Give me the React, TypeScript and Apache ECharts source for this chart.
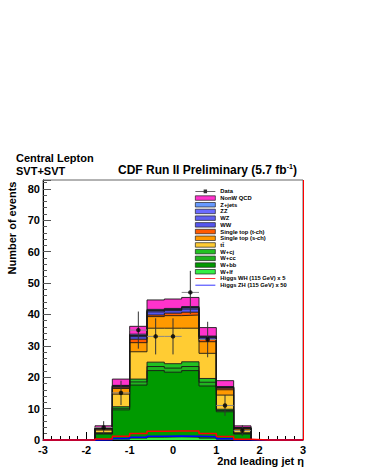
import React, { useEffect, useRef } from 'react';
import * as echarts from 'echarts';

const FONT = '"Liberation Sans", Arial, Helvetica, sans-serif';

// 15 bins of width 0.4 from -3 to 3
const binEdges = [-3, -2.6, -2.2, -1.8, -1.4, -1.0, -0.6, -0.2, 0.2, 0.6, 1.0, 1.4, 1.8, 2.2, 2.6, 3];

// background components (stacked, bottom to top)
const wlf    = [0, 0, 0, 0.05, 0.3, 0.6, 0.9, 1.0, 0.9, 0.6, 0.3, 0.05, 0, 0, 0];
const wbb    = [0, 0, 0, 1.85, 9.3, 16.9, 21.2, 20.6, 21.2, 16.6, 8.7, 1.85, 0, 0, 0];
const wcc    = [0, 0, 0, 0.2, 0.5, 1.0, 1.3, 1.3, 1.3, 1.2, 0.4, 0.2, 0, 0, 0];
const wcj    = [0, 0, 0, 0.2, 0.5, 0.9, 1.4, 1.4, 1.5, 1.2, 0.4, 0.2, 0, 0, 0];
const ttbar  = [0, 0, 0, 0.85, 4.0, 8.7, 10.8, 11.3, 10.7, 8.0, 4.5, 0.9, 0, 0, 0];
const stopS  = [0, 0, 0, 0.3, 1.8, 2.9, 3.7, 4.0, 4.2, 3.7, 1.7, 0.4, 0, 0, 0];
const stopT  = [0, 0, 0, 0.1, 0.4, 1.1, 0.5, 0.8, 0.9, 0.8, 0.5, 0.1, 0, 0, 0];
const ww     = [0, 0, 0, 0.1, 0.3, 0.8, 1.0, 0.8, 1.0, 0.5, 0.2, 0.15, 0, 0, 0];
const wz     = [0, 0, 0, 0.05, 0.1, 0.3, 0.4, 0.3, 0.4, 0.2, 0.1, 0.05, 0, 0, 0];
const zz     = [0, 0, 0, 0.02, 0.05, 0.1, 0.1, 0.1, 0.1, 0.1, 0.05, 0.02, 0, 0, 0];
const zjets  = [0, 0, 0, 0.1, 0.15, 0.4, 0.3, 0.3, 0.3, 0.2, 0.15, 0.08, 0, 0, 0];
const qcd    = [0, 0, 0, 0.7, 2.0, 2.5, 3.0, 3.0, 2.9, 2.7, 1.9, 0.5, 0, 0, 0];

// signal (scaled)
const higgsWH = [0, 0, 0, 0.3, 1.2, 2.1, 2.8, 2.9, 2.9, 2.1, 1.1, 0.2, 0, 0, 0];
const higgsZH = [0, 0, 0, 0.05, 0.5, 0.9, 1.2, 1.3, 1.2, 1.0, 0.4, 0.05, 0, 0, 0];

// data
const dataX = [-1.6, -1.2, -0.8, -0.4, 0, 0.4, 0.8, 1.2, 1.6];
const dataY = [4, 15, 35, 33, 33, 47, 32, 11, 3];

const yMax = 82.8;

const layers = [
  { name: 'W+lf', vals: wlf, color: '#33ee44' },
  { name: 'W+bb', vals: wbb, color: '#009a00' },
  { name: 'W+cc', vals: wcc, color: '#1fb41f' },
  { name: 'W+cj', vals: wcj, color: '#22c022' },
  { name: 'tt\u0304', vals: ttbar, color: '#ffcc33' },
  { name: 'Single top (s-ch)', vals: stopS, color: '#ff9900' },
  { name: 'Single top (t-ch)', vals: stopT, color: '#ff5a00' },
  { name: 'WW', vals: ww, color: '#5555ee' },
  { name: 'WZ', vals: wz, color: '#6060f0' },
  { name: 'ZZ', vals: zz, color: '#6a6aff' },
  { name: 'Z+jets', vals: zjets, color: '#6699ff' },
  { name: 'NonW QCD', vals: qcd, color: '#ff33cc' },
];

const stepData = (vals: number[]) =>
  binEdges.map((e, i) => [e, vals[Math.min(i, vals.length - 1)]]);

const halfBin = (binEdges[1] - binEdges[0]) / 2;

const legendOrder = [
  'NonW QCD', 'Z+jets', 'ZZ', 'WZ', 'WW', 'Single top (t-ch)', 'Single top (s-ch)',
  'tt\u0304', 'W+cj', 'W+cc', 'W+bb', 'W+lf',
];

export default function App() {
  const ref = useRef<HTMLDivElement>(null);
  useEffect(() => {
    if (!ref.current) return;
    const chart = echarts.init(ref.current, null, { renderer: 'svg' });
    // cumulative sums (stack), drawn from the top layer down
    let running = new Array(binEdges.length - 1).fill(0);
    const cumul = layers.map((l) => {
      running = running.map((v, i) => v + l.vals[i]);
      return { ...l, cum: running.slice() };
    });
    const stackSeries = cumul.slice().reverse().map((l) => ({
      type: 'line',
      name: l.name,
      step: 'end',
      symbol: 'none',
      data: stepData(l.cum),
      itemStyle: { color: l.color },
      lineStyle: { color: '#1a1a1a', width: 0.9 },
      areaStyle: { color: l.color, opacity: 1, origin: 'start' },
      z: 2,
    }));
    const lineIcon = 'path://M0,2.1H20V2.9H0Z';
    const option: any = {
      animation: false,
      backgroundColor: '#fff',
      grid: {
        left: 43, right: 62, top: 180, bottom: 33,
        show: true, borderColor: '#666', borderWidth: 1, backgroundColor: 'transparent',
      },
      xAxis: {
        type: 'value', min: -3, max: 3, interval: 1,
        axisLine: { show: true, onZero: false, lineStyle: { color: '#000', width: 1 } },
        axisTick: { show: true, inside: true, length: 8, lineStyle: { color: '#000' } },
        minorTick: { show: true, splitNumber: 5, length: 4, lineStyle: { color: '#000' } },
        axisLabel: { fontSize: 11, fontWeight: 'bold', color: '#000', fontFamily: FONT, margin: 4 },
        splitLine: { show: false },
      },
      yAxis: {
        type: 'value', min: 0, max: yMax, interval: 10,
        axisLine: { show: true, onZero: false, lineStyle: { color: '#000', width: 1 } },
        axisTick: { show: true, inside: true, length: 8, lineStyle: { color: '#555' } },
        minorTick: { show: true, splitNumber: 5, length: 4, lineStyle: { color: '#555' } },
        axisLabel: { fontSize: 11, fontWeight: 'bold', color: '#000', fontFamily: FONT, margin: 3, showMaxLabel: false },
        splitLine: { show: false },
      },
      legend: {
        orient: 'vertical', left: 190, top: 183,
        itemWidth: 20, itemHeight: 4.5, itemGap: 0,
        textStyle: { fontSize: 5.8, lineHeight: 6.7, fontWeight: 'bold', fontFamily: FONT, color: '#000' },
        data: [
          { name: 'Data', icon: 'path://M0,4.6H20V5.4H0Z M8.3,3.2H11.7V6.8H8.3Z', itemStyle: { color: '#000' } },
          ...legendOrder.map((n) => ({
            name: n, icon: 'rect',
            itemStyle: { borderColor: '#222', borderWidth: 0.7 },
          })),
          { name: 'Higgs WH (115 GeV) x 5', icon: lineIcon, itemStyle: { color: '#ff0000' } },
          { name: 'Higgs ZH (115 GeV) x 50', icon: lineIcon, itemStyle: { color: '#0000ff' } },
        ],
      },
      graphic: [
        { type: 'text', x: 16, y: 157.5, style: { text: 'Central Lepton', font: `bold 11px ${FONT}`, fill: '#000', verticalAlign: 'middle' } },
        { type: 'text', x: 16, y: 170.5, style: { text: 'SVT+SVT', font: `bold 11px ${FONT}`, fill: '#000', verticalAlign: 'middle' } },
        {
          type: 'text', x: 118, y: 170,
          style: {
            text: '{a|CDF Run II Preliminary (5.7 fb}{s|-1}{a|)}',
            verticalAlign: 'middle',
            rich: {
              a: { fontSize: 12, fontWeight: 'bold', fontFamily: FONT, lineHeight: 14, fill: '#000', color: '#000' },
              s: { fontSize: 7, fontWeight: 'bold', fontFamily: FONT, lineHeight: 14, verticalAlign: 'top', fill: '#000', color: '#000' },
            },
          },
        },
        { type: 'text', x: 304, y: 461, style: { text: '2nd leading jet \u03b7', font: `bold 11px ${FONT}`, fill: '#000', align: 'right', verticalAlign: 'middle' } },
        { type: 'text', x: 12, y: 228, rotation: Math.PI / 2, style: { text: 'Number of events', font: `bold 11px ${FONT}`, fill: '#000', align: 'center', verticalAlign: 'middle' } },
      ],
      series: [
        ...stackSeries,
        {
          type: 'line', name: 'Higgs ZH (115 GeV) x 50', step: 'end', symbol: 'none',
          data: stepData(higgsZH), itemStyle: { color: '#0000ff' },
          lineStyle: { color: '#0000ff', width: 1.5 }, clip: false, z: 3,
        },
        {
          type: 'line', name: 'Higgs WH (115 GeV) x 5', step: 'end', symbol: 'none',
          data: stepData(higgsWH), itemStyle: { color: '#ff0000' },
          lineStyle: { color: '#ff0000', width: 1.5 }, clip: false, z: 3,
          markLine: {
            silent: true, symbol: 'none', label: { show: false },
            lineStyle: { color: '#ff0000', width: 1, type: 'solid' },
            data: [{ xAxis: 3 }],
          },
        },
        {
          type: 'custom', name: 'DataErr', z: 5,
          data: dataX.map((x, i) => [x, dataY[i], Math.sqrt(dataY[i])]),
          renderItem: (params: any, api: any) => {
            const x = api.value(0), y = api.value(1), e = api.value(2);
            const c = api.coord([x, y]);
            const t = api.coord([x, y + e]);
            const b = api.coord([x, Math.max(0, y - e)]);
            const l = api.coord([x - halfBin, y]);
            const r = api.coord([x + halfBin, y]);
            return {
              type: 'group',
              children: [
                { type: 'line', shape: { x1: l[0], y1: c[1], x2: r[0], y2: c[1] }, style: { stroke: '#888', lineWidth: 1 } },
                { type: 'line', shape: { x1: c[0], y1: t[1], x2: c[0], y2: b[1] }, style: { stroke: '#333', lineWidth: 1 } },
              ],
            };
          },
        },
        {
          type: 'scatter', name: 'Data', z: 6,
          data: dataX.map((x, i) => [x, dataY[i]]),
          symbol: 'circle', symbolSize: 4.5, itemStyle: { color: '#000' },
        },
      ],
    };
    chart.setOption(option);
    return () => chart.dispose();
  }, []);
  return <div ref={ref} style={{ position: 'absolute', left: 0, top: 0, width: 365, height: 473 }} />;
}
